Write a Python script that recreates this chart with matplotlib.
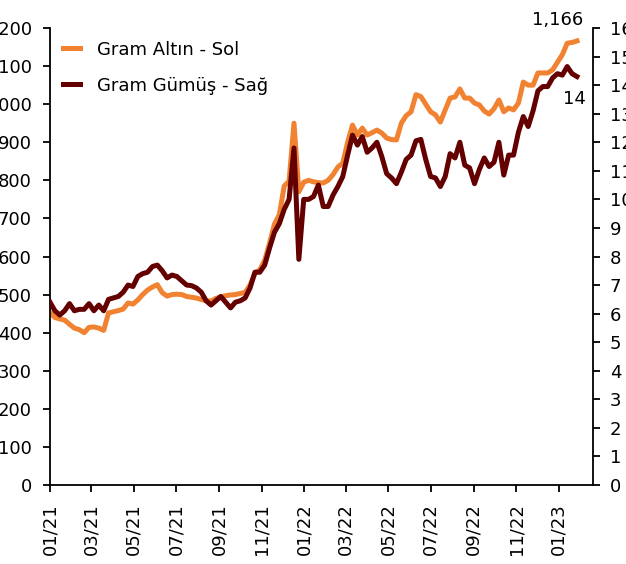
import numpy as np
import pandas as pd
import matplotlib
matplotlib.use('Agg')
import matplotlib.pyplot as plt
import matplotlib.dates as mdates
from matplotlib.ticker import FuncFormatter, MultipleLocator

# weekly closes, starting 01/2021
gold = [452, 440, 436, 433, 422, 412, 408, 400, 414, 415,
        412, 406, 452, 455, 458, 462, 478, 475, 486, 500,
        512, 520, 526, 505, 496, 500, 501, 500, 495, 493,
        491, 487, 484, 483, 490, 494, 497, 499, 500, 503,
        506, 525, 556, 565, 590, 635, 685, 710, 785, 798,
        950, 770, 795, 800, 796, 794, 793, 800, 815, 835,
        845, 900, 945, 919, 937, 919, 925, 932, 924, 911,
        907, 906, 950, 970, 980, 1025, 1020, 1000, 980, 972,
        953, 985, 1016, 1019, 1040, 1016, 1016, 1003, 998, 982,
        974, 988, 1011, 980, 990, 985, 1003, 1058, 1050, 1050,
        1082, 1082, 1082, 1090, 1110, 1130, 1160, 1162, 1166]
silver = [6.4, 6.1, 5.95, 6.1, 6.35, 6.1, 6.15, 6.15, 6.35, 6.1,
          6.3, 6.1, 6.5, 6.55, 6.6, 6.75, 7.0, 6.95, 7.3, 7.4,
          7.45, 7.65, 7.7, 7.5, 7.25, 7.35, 7.3, 7.15, 7.0, 6.98,
          6.9, 6.75, 6.45, 6.3, 6.45, 6.6, 6.4, 6.2, 6.4, 6.45,
          6.55, 6.9, 7.45, 7.45, 7.7, 8.3, 8.85, 9.15, 9.65, 10.0,
          11.8, 7.9, 10.0, 10.0, 10.1, 10.5, 9.75, 9.75, 10.15, 10.45,
          10.8, 11.55, 12.25, 11.9, 12.2, 11.65, 11.8, 12.0, 11.5, 10.9,
          10.75, 10.55, 10.95, 11.4, 11.55, 12.05, 12.1, 11.4, 10.8, 10.75,
          10.45, 10.8, 11.6, 11.45, 12.0, 11.2, 11.1, 10.55, 11.05, 11.45,
          11.15, 11.3, 12.0, 10.85, 11.55, 11.55, 12.35, 12.9, 12.55, 13.1,
          13.8, 13.95, 13.95, 14.25, 14.4, 14.35, 14.65, 14.4, 14.3]
dates = pd.date_range('2021-01-01', periods=len(gold), freq='7D')

gold_label = 'Gram Altın - Sol'
silver_label = 'Gram Gümüş - Sağ'
ORANGE = '#F08232'
DARK = '#640000'

plt.rcParams['font.family'] = 'DejaVu Sans'
plt.rcParams['font.size'] = 13

fig = plt.figure(figsize=(6.26, 5.64), dpi=100)
ax = fig.add_axes([50 / 626, 79 / 564, 543 / 626, 457 / 564])
ax2 = ax.twinx()

l1, = ax.plot(dates, gold, color=ORANGE, lw=3.6, solid_joinstyle='round')
l2, = ax2.plot(dates, silver, color=DARK, lw=3.6, solid_joinstyle='round')

ax.set_xlim(pd.Timestamp('2021-01-01'), pd.Timestamp('2023-02-19'))
ax.set_ylim(0, 1200)
ax2.set_ylim(0, 16)
ax.yaxis.set_major_locator(MultipleLocator(100))
ax.yaxis.set_major_formatter(FuncFormatter(lambda v, p: f'{v:,.0f}'))
ax2.yaxis.set_major_locator(MultipleLocator(1))

ax.xaxis.set_major_locator(mdates.MonthLocator(bymonth=[1, 3, 5, 7, 9, 11]))
ax.xaxis.set_major_formatter(mdates.DateFormatter('%m/%y'))
plt.setp(ax.get_xticklabels(), rotation=90)

for a in (ax, ax2):
    a.spines['top'].set_visible(False)
    for s in a.spines.values():
        s.set_linewidth(1.3)
    a.tick_params(length=5, width=1.3, pad=8, labelsize=13)
ax2.tick_params(pad=7)

# left/bottom spines on ax, right one on the twin
ax2.spines['left'].set_visible(False)
ax2.spines['bottom'].set_visible(False)
ax.spines['right'].set_visible(False)

ax.annotate(f'{gold[-1]:,}', (dates[-1], gold[-1]), xytext=(-14, 15),
            textcoords='offset points', ha='center', va='center', fontsize=13)
ax2.annotate(f'{silver[-1]:.0f}', (dates[-1], silver[-1]), xytext=(-2, -16.5),
             textcoords='offset points', ha='center', va='center', fontsize=13)

ax.legend([l1, l2], [gold_label, silver_label], loc='upper left', frameon=False,
          handlelength=0.95, handletextpad=0.95, labelspacing=1.0,
          bbox_to_anchor=(0.0, 1.0), borderaxespad=0.3, fontsize=13)

fig.savefig('out.png', dpi=100)
